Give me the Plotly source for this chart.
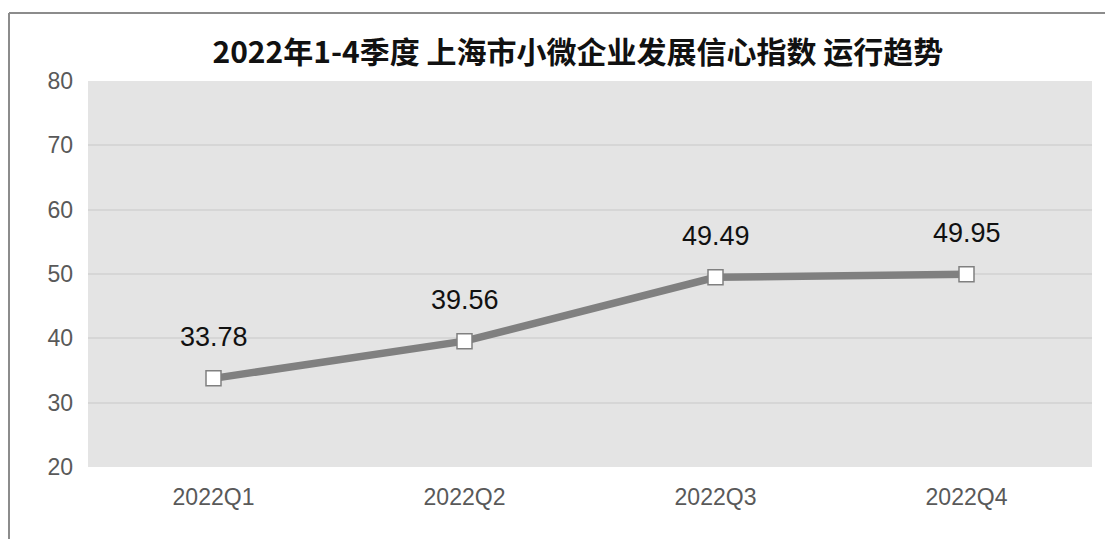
import plotly.graph_objects as go

categories = ["2022Q1", "2022Q2", "2022Q3", "2022Q4"]
values = [33.78, 39.56, 49.49, 49.95]
value_labels = ["33.78", "39.56", "49.49", "49.95"]
y_ticks = [20, 30, 40, 50, 60, 70, 80]
title_text = "2022年1-4季度 上海市小微企业发展信心指数 运行趋势"

fig = go.Figure()
fig.add_trace(go.Scatter(
    x=categories, y=values, mode="lines+markers",
    line=dict(color="#808080", width=7.5),
    marker=dict(symbol="square", size=15, color="white",
                line=dict(color="#808080", width=1.5)),
    hoverinfo="skip", showlegend=False,
))
for c, v, t in zip(categories, values, value_labels):
    fig.add_annotation(x=c, y=v, text=t, showarrow=False, yshift=41,
                       font=dict(family="Liberation Sans, Arial", size=27, color="#111111"))

fig.update_layout(
    width=1105, height=539,
    margin=dict(l=88, r=13, t=81, b=72),
    paper_bgcolor="white", plot_bgcolor="#e4e4e4",
    title=dict(text=title_text, x=0.523, xanchor="center", y=0.903, yanchor="middle",
               font=dict(family="Noto Sans CJK SC", size=30, color="#111111", weight="bold")),
    xaxis=dict(type="category", range=[-0.5, 3.5], showgrid=False, zeroline=False,
               showline=False, ticks="", ticklabelstandoff=14,
               tickfont=dict(family="Liberation Sans, Arial", size=23, color="#595959")),
    yaxis=dict(range=[20, 80], tickvals=y_ticks, showgrid=True, gridcolor="#d6d6d6",
               gridwidth=1.5, zeroline=False, showline=False, ticks="", ticklen=0,
               ticklabelstandoff=14,
               tickfont=dict(family="Liberation Sans, Arial", size=23, color="#595959")),
    shapes=[
        dict(type="line", xref="paper", yref="paper",
             x0=(9 - 88) / 1004, x1=(1105 - 88) / 1004,
             y0=(467 - 13) / 386, y1=(467 - 13) / 386,
             line=dict(color="#8c8c8c", width=2)),
        dict(type="line", xref="paper", yref="paper",
             x0=(9 - 88) / 1004, x1=(9 - 88) / 1004,
             y0=(467 - 13) / 386, y1=(467 - 545) / 386,
             line=dict(color="#8c8c8c", width=2)),
    ],
)
fig.write_html("out.html", config={"displayModeBar": False},
               post_script="document.body.style.margin='0';document.body.style.overflow='hidden';")
